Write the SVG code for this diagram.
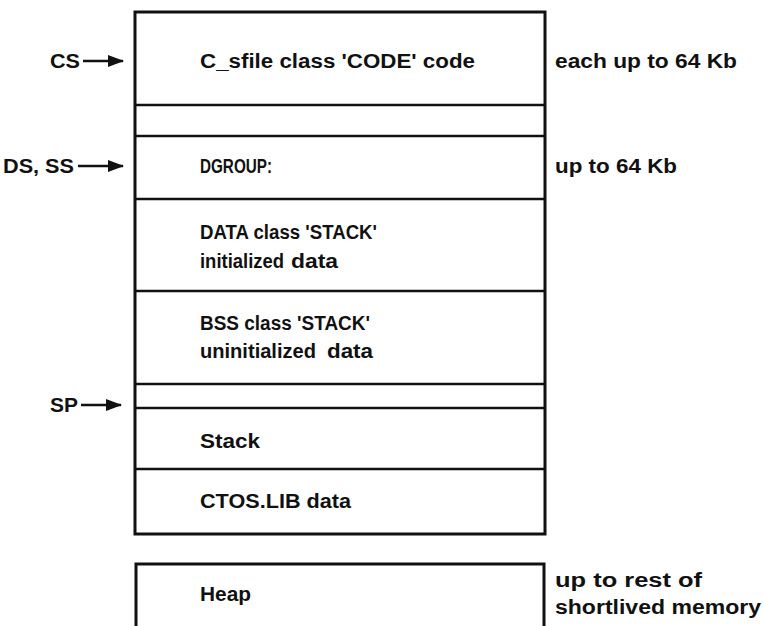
<svg xmlns="http://www.w3.org/2000/svg" width="763" height="626" viewBox="0 0 763 626">
<style>
text{font-family:"Liberation Sans",Arial,sans-serif;font-size:20px;font-weight:bold;fill:#111}
.box{fill:none;stroke:#111;stroke-width:3}
.div{stroke:#111;stroke-width:2.5}
.arr{stroke:#111;stroke-width:2.5;fill:none}
</style>
<defs>
<marker id="ah" markerWidth="16" markerHeight="12" refX="15" refY="6" orient="auto" markerUnits="userSpaceOnUse">
<path d="M0,0 L16,6 L0,12 Z" fill="#111"/>
</marker>
</defs>
<g id="memory-block">
<rect class="box" x="135" y="12" width="410" height="522"/>
<line class="div" x1="135" y1="105" x2="545" y2="105"/>
<line class="div" x1="135" y1="136" x2="545" y2="136"/>
<line class="div" x1="135" y1="199" x2="545" y2="199"/>
<line class="div" x1="135" y1="291" x2="545" y2="291"/>
<line class="div" x1="135" y1="384" x2="545" y2="384"/>
<line class="div" x1="135" y1="408" x2="545" y2="408"/>
<line class="div" x1="135" y1="469" x2="545" y2="469"/>
</g>
<g id="code"><text x="200" y="68" textLength="275" lengthAdjust="spacingAndGlyphs">C_sfile class 'CODE' code</text></g>
<g id="dgroup"><text x="200" y="173" textLength="72" lengthAdjust="spacingAndGlyphs">DGROUP:</text></g>
<g id="data"><text x="200" y="239" textLength="177" lengthAdjust="spacingAndGlyphs">DATA class 'STACK'</text><text x="200" y="268"><tspan textLength="84" lengthAdjust="spacingAndGlyphs">initialized</tspan><tspan x="291" textLength="47" lengthAdjust="spacingAndGlyphs">data</tspan></text></g>
<g id="bss"><text x="200" y="330" textLength="170" lengthAdjust="spacingAndGlyphs">BSS class 'STACK'</text><text x="200" y="358"><tspan textLength="116" lengthAdjust="spacingAndGlyphs">uninitialized</tspan><tspan x="327" textLength="46" lengthAdjust="spacingAndGlyphs">data</tspan></text></g>
<g id="stack"><text x="200" y="448" textLength="60" lengthAdjust="spacingAndGlyphs">Stack</text></g>
<g id="ctos"><text x="200" y="508" textLength="151" lengthAdjust="spacingAndGlyphs">CTOS.LIB data</text></g>
<g id="heap">
<path class="box" d="M136,626 V564 H544 V626"/>
<text x="200" y="601" textLength="51" lengthAdjust="spacingAndGlyphs">Heap</text>
</g>
<g id="labels">
<text x="555" y="68" textLength="182" lengthAdjust="spacingAndGlyphs">each up to 64 Kb</text>
<text x="555" y="173" textLength="122" lengthAdjust="spacingAndGlyphs">up to 64 Kb</text>
<text x="555" y="587" textLength="147" lengthAdjust="spacingAndGlyphs">up to rest of</text>
<text x="555" y="614" textLength="206" lengthAdjust="spacingAndGlyphs">shortlived memory</text>
</g>
<g id="pointers">
<text x="50" y="68" textLength="30" lengthAdjust="spacingAndGlyphs">CS</text>
<text x="3" y="173" textLength="71" lengthAdjust="spacingAndGlyphs">DS, SS</text>
<text x="50" y="412" textLength="28" lengthAdjust="spacingAndGlyphs">SP</text>
</g>
<g id="connectors">
<line class="arr" x1="83" y1="61" x2="123" y2="61" marker-end="url(#ah)"/>
<line class="arr" x1="78" y1="166" x2="123" y2="166" marker-end="url(#ah)"/>
<line class="arr" x1="81" y1="405" x2="121" y2="405" marker-end="url(#ah)"/>
</g>
</svg>
